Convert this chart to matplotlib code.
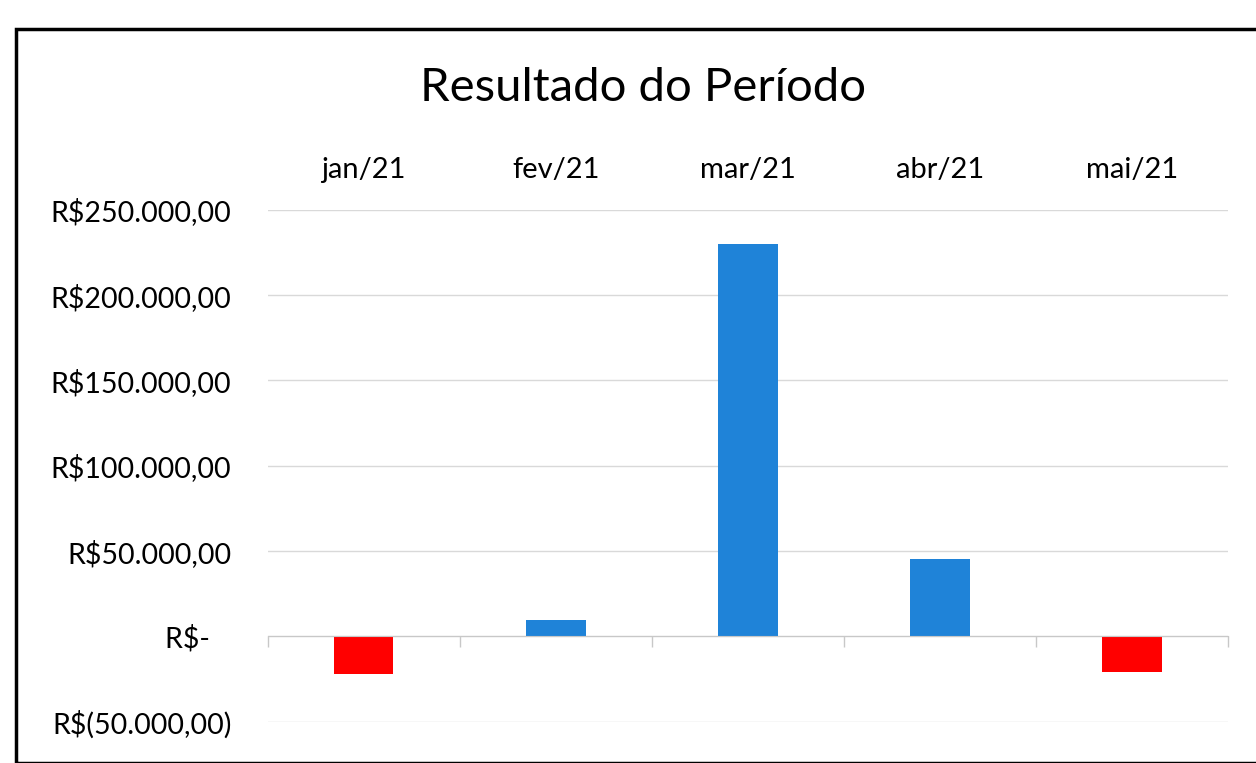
import numpy as np
import matplotlib.pyplot as plt
from matplotlib.ticker import FuncFormatter, FixedLocator
from matplotlib.patches import Rectangle

months = ['jan/21', 'fev/21', 'mar/21', 'abr/21', 'mai/21']
resultado = [-22000, 9500, 230000, 45500, -21000]
yticks = [-50000, 0, 50000, 100000, 150000, 200000, 250000]

plt.rcParams['font.family'] = ['Lato', 'DejaVu Sans']


def brl(v, pos=None):
    if v == 0:
        return 'R$-   '
    s = '{:,.2f}'.format(abs(v)).replace(',', 'X').replace('.', ',').replace('X', '.')
    if v < 0:
        return 'R$(' + s + ')'
    return 'R$' + s


fig = plt.figure(figsize=(12.56, 7.63), dpi=100)
ax = fig.add_axes([0.213, 0.054, 0.765, 0.671])

x = np.arange(len(months))
colors = ['#ff0000' if v < 0 else '#1f83d8' for v in resultado]
ax.bar(x, resultado, width=0.31, color=colors, zorder=3)

ax.set_xlim(-0.5, len(months) - 0.5)
ax.set_ylim(-50000, 250000)
ax.set_yticks(yticks)
ax.yaxis.set_major_formatter(FuncFormatter(brl))
ax.grid(axis='y', color='#d9d9d9', linewidth=1)
ax.tick_params(axis='y', length=0, labelsize=20.5, pad=26)

ax.set_xticks(x)
ax.set_xticklabels(months)
ax.xaxis.set_minor_locator(FixedLocator(np.arange(-0.5, len(months), 1)))
ax.tick_params(axis='x', which='major', bottom=False, top=False,
               labelbottom=False, labeltop=True, labelsize=21, pad=16)
ax.tick_params(axis='x', which='minor', bottom=True, top=False,
               length=8, color='#c8c8c8', width=1)

for side in ['left', 'right', 'top']:
    ax.spines[side].set_visible(False)
ax.spines['bottom'].set_position(('data', 0))
ax.spines['bottom'].set_color('#c8c8c8')
ax.spines['bottom'].set_zorder(4)

fig.text(0.512, 0.885, 'Resultado do Período', ha='center', va='center', fontsize=34)

fig.patches.append(Rectangle((0.013, 0.0), 1.2, 0.962, transform=fig.transFigure,
                             fill=False, edgecolor='black', linewidth=2.5))

fig.savefig('out.png', dpi=100)
